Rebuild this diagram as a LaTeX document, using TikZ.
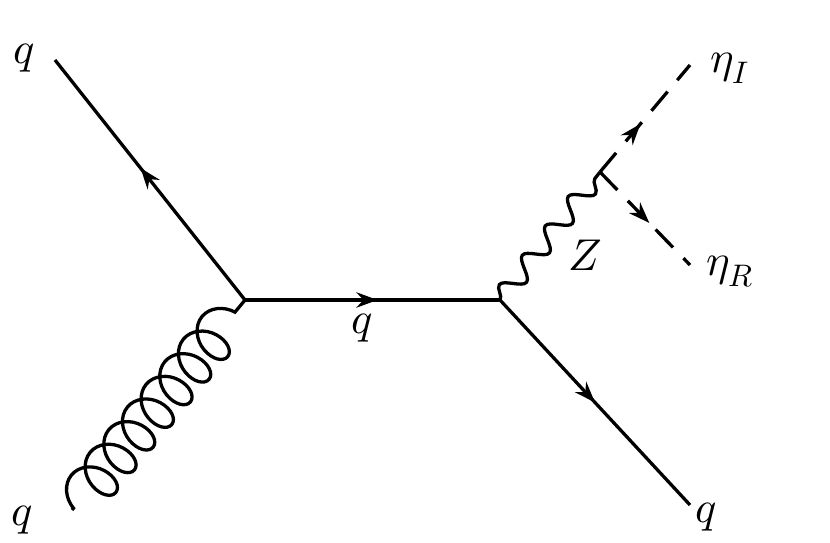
\documentclass[tikz,border=0pt]{standalone}
\usepackage{unicode-math}
\setmathfont{Latin Modern Math}
\usetikzlibrary{decorations.pathmorphing,decorations.markings,arrows.meta}
\begin{document}
\begin{tikzpicture}[x=0.03cm,y=-0.03cm,line width=2.8pt,
  fermion/.style={postaction={decorate},decoration={markings,mark=at position #1 with {\arrow{Stealth[length=18pt,width=13pt]}}}},
  fermion/.default=0.55,
  gluon/.style={decorate,decoration={coil,aspect=0.75,amplitude=0.68cm,segment length=0.88cm,pre length=2pt,post length=2pt}},
  boson/.style={decorate,decoration={snake,amplitude=0.3cm,segment length=1.12cm}},
  scalar/.style={dashed,dash pattern=on 0.75cm off 0.45cm},
  lab/.style={font=\fontsize{38}{40}\selectfont}]
\useasboundingbox (0,0) rectangle (830,543);
\coordinate (q1) at (55,60);
\coordinate (g) at (72,510);
\coordinate (v1) at (245,300);
\coordinate (v2) at (500,300);
\coordinate (q2) at (690,505);
\coordinate (v3) at (600,172);
\coordinate (eI) at (690,65);
\coordinate (eR) at (690,265);
\draw[fermion=0.55] (v1) -- (q1);
\draw[gluon] (g) -- (v1);
\draw[fermion=0.52] (v1) -- (v2);
\draw[fermion=0.5] (v2) -- (q2);
\draw[boson] (v2) -- (v3);
\draw[scalar] (v3) -- (eI);
\draw[scalar] (v3) -- (eR);
\path[fermion=0.45] (v3) -- (eI);
\path[fermion=0.55] (v3) -- (eR);
\node[lab] (l1) at (24,58) {$q$};
\node[lab] (l2) at (22,520) {$q$};
\node[lab] (l3) at (362,328) {$q$};
\node[lab] (l4) at (706,517) {$q$};
\node[lab] (l5) at (585,255) {$Z$};
\node[lab] (l6) at (730,68) {$\eta_I$};
\node[lab] (l7) at (730,272) {$\eta_R$};
\end{tikzpicture}
\end{document}
